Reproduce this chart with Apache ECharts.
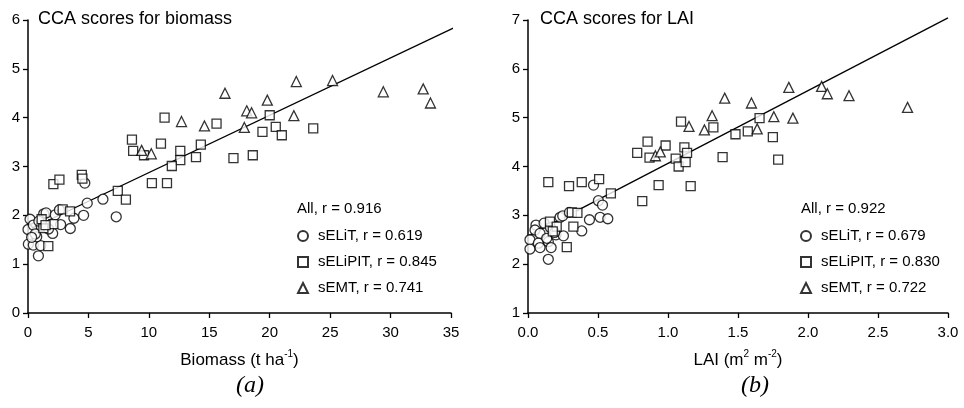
<!DOCTYPE html>
<html>
<head>
<meta charset="utf-8">
<script src="https://cdn.jsdelivr.net/npm/echarts@6/dist/echarts.min.js"></script>
<style>
html,body{margin:0;padding:0;background:#fff;}
#c{width:964px;height:408px;}
</style>
</head>
<body>
<div id="c"></div>
<script>
// ---- Panel (a): CCA scores vs biomass ----
const circlesA = [[0.0,1.71],[0.17,1.92],[0.44,1.80],[0.03,1.41],[0.44,1.39],[1.05,1.38],[0.86,1.17],[0.72,1.56],[1.1,1.77],[0.6,1.62],[1.3,2.03],[1.5,2.05],[2.04,1.63],[2.25,2.01],[2.6,2.11],[2.7,1.81],[3.5,1.73],[3.8,1.94],[4.6,2.0],[4.7,2.66],[4.9,2.25],[6.2,2.33],[7.3,1.97],[0.3,1.55],[1.7,1.72],[0.9,1.88]];
const squaresA = [[2.1,2.64],[2.6,2.73],[4.45,2.83],[4.5,2.75],[7.43,2.50],[8.1,2.32],[2.87,2.12],[3.48,2.08],[2.1,1.82],[1.27,1.74],[1.13,1.92],[1.68,1.37],[1.45,1.80],[8.6,3.55],[8.7,3.32],[9.6,3.23],[11.3,4.0],[11.0,3.47],[12.6,3.32],[12.6,3.13],[11.9,3.01],[10.25,2.66],[11.5,2.66],[14.3,3.45],[13.9,3.19],[15.6,3.88],[17.0,3.17],[18.6,3.23],[20.0,4.05],[20.5,3.81],[21.0,3.64],[23.6,3.78],[19.4,3.71]];
const trianglesA = [[16.3,4.50],[12.7,3.92],[14.6,3.83],[17.9,3.80],[18.1,4.14],[18.5,4.10],[9.4,3.33],[10.2,3.26],[19.8,4.36],[22.0,4.04],[22.2,4.74],[25.2,4.76],[29.4,4.53],[32.7,4.59],[33.3,4.30]];
const trendA = [[0,1.70],[35.4,5.86]];
const legendA = ['All, r = 0.916','sELiT, r = 0.619','sELiPIT, r = 0.845','sEMT, r = 0.741'];

// ---- Panel (b): CCA scores vs LAI ----
const circlesB = [[0.014,2.50],[0.014,2.31],[0.057,2.80],[0.05,2.70],[0.086,2.63],[0.074,2.43],[0.086,2.34],[0.145,2.10],[0.145,2.46],[0.165,2.34],[0.115,2.84],[0.134,2.53],[0.2,2.60],[0.253,2.58],[0.229,2.96],[0.248,2.99],[0.296,3.06],[0.384,2.68],[0.439,2.91],[0.515,2.96],[0.57,2.93],[0.503,3.30],[0.532,3.21],[0.468,3.62],[0.16,2.75],[0.19,2.65]];
const squaresB = [[0.145,3.68],[0.293,3.60],[0.384,3.68],[0.508,3.74],[0.592,3.45],[0.78,4.28],[0.854,4.51],[0.868,4.18],[0.983,4.43],[1.093,4.92],[1.055,4.16],[1.076,4.00],[1.117,4.39],[1.136,4.28],[1.126,4.09],[0.933,3.62],[1.162,3.60],[1.324,4.80],[1.39,4.19],[1.482,4.66],[0.816,3.29],[1.57,4.72],[1.654,4.99],[1.749,4.60],[1.787,4.14],[0.157,2.87],[0.205,2.77],[0.177,2.67],[0.313,3.06],[0.353,3.05],[0.324,2.77],[0.277,2.35]];
const trianglesB = [[0.91,4.22],[0.945,4.30],[1.15,4.82],[1.26,4.75],[1.315,5.04],[1.405,5.40],[1.596,5.30],[1.637,4.77],[1.756,5.02],[1.863,5.62],[1.892,4.99],[2.097,5.64],[2.138,5.49],[2.293,5.45],[2.711,5.21]];
const trendB = [[0,2.575],[3.0,7.045]];
const legendB = ['All, r = 0.922','sELiT, r = 0.679','sELiPIT, r = 0.830','sEMT, r = 0.722'];

const titles = ['CCA scores for biomass','CCA scores for LAI'];
const panelLabels = ['(a)','(b)'];

const FONT = 'Liberation Sans, Arial, sans-serif';
const chart = echarts.init(document.getElementById('c'), null, {renderer:'canvas'});

function axisCommon(){
  return {
    axisLine:{show:true,lineStyle:{color:'#000',width:1.5}},
    axisTick:{show:true,length:5,lineStyle:{color:'#000',width:1.3}},
    splitLine:{show:false},
    axisLabel:{color:'#000',fontSize:15,fontFamily:FONT}
  };
}
const mk = {color:'#fff',borderColor:'#000',borderWidth:1.3};
function scat(name, data, sym, size, idx){
  return {type:'scatter',name:name,data:data,symbol:sym,symbolSize:size,xAxisIndex:idx,yAxisIndex:idx,
    itemStyle:mk,emphasis:{disabled:true},z:3};
}
function line(data, idx){
  return {type:'line',data:data,xAxisIndex:idx,yAxisIndex:idx,symbol:'none',clip:false,
    lineStyle:{color:'#000',width:1.3},z:2,silent:true};
}
const nameRich = {
  n:{fontSize:17,fontFamily:FONT,color:'#000',lineHeight:22},
  s:{fontSize:10,fontFamily:FONT,color:'#000',verticalAlign:'top'}
};
function legendOpt(names, left){
  return {data:names.slice(1),orient:'vertical',left:left,top:228,padding:0,itemWidth:10,itemHeight:10,itemGap:10,
    symbolKeepAspect:true,
    textStyle:{fontSize:15,color:'#000',fontFamily:FONT,lineHeight:16,padding:[0,0,0,5]},selectedMode:false};
}

const option = {
  animation:false,
  backgroundColor:'#fff',
  title:[
    {text:titles[0],left:38,top:10,padding:0,textStyle:{fontSize:18,fontWeight:'normal',color:'#000',fontFamily:FONT}},
    {text:titles[1],left:540,top:10,padding:0,textStyle:{fontSize:18,fontWeight:'normal',color:'#000',fontFamily:FONT}},
    {text:legendA[0],left:297,top:201,padding:0,textStyle:{fontSize:15,fontWeight:'normal',color:'#000',fontFamily:FONT}},
    {text:legendB[0],left:801,top:201,padding:0,textStyle:{fontSize:15,fontWeight:'normal',color:'#000',fontFamily:FONT}},
    {text:panelLabels[0],left:250,textAlign:'center',top:374,padding:0,textStyle:{fontSize:24,fontStyle:'italic',fontWeight:'normal',color:'#000',fontFamily:'Liberation Serif, Times New Roman, serif'}},
    {text:panelLabels[1],left:755,textAlign:'center',top:374,padding:0,textStyle:{fontSize:24,fontStyle:'italic',fontWeight:'normal',color:'#000',fontFamily:'Liberation Serif, Times New Roman, serif'}}
  ],
  legend:[ legendOpt(legendA, 297), legendOpt(legendB, 800) ],
  grid:[
    {left:28,top:20,width:423,height:293},
    {left:528,top:20,width:420,height:293}
  ],
  xAxis:[
    Object.assign(axisCommon(),{type:'value',gridIndex:0,min:0,max:35,interval:5,
      name:'{n|Biomass (t ha}{s|-1}{n|)}',nameLocation:'middle',nameGap:36,nameTextStyle:{rich:nameRich}}),
    Object.assign(axisCommon(),{type:'value',gridIndex:1,min:0,max:3,interval:0.5,
      name:'{n|LAI (m}{s|2}{n| m}{s|-2}{n|)}',nameLocation:'middle',nameGap:36,nameTextStyle:{rich:nameRich}})
  ],
  yAxis:[
    Object.assign(axisCommon(),{type:'value',gridIndex:0,min:0,max:6,interval:1}),
    Object.assign(axisCommon(),{type:'value',gridIndex:1,min:1,max:7,interval:1})
  ],
  series:[
    line(trendA,0),
    scat(legendA[1],circlesA,'circle',10,0),
    scat(legendA[2],squaresA,'rect',9,0),
    scat(legendA[3],trianglesA,'triangle',10,0),
    line(trendB,1),
    scat(legendB[1],circlesB,'circle',10,1),
    scat(legendB[2],squaresB,'rect',9,1),
    scat(legendB[3],trianglesB,'triangle',10,1)
  ]
};
option.xAxis[1].axisLabel.formatter = v => v.toFixed(1);
option.xAxis[0].axisLabel.margin = 12;
option.xAxis[1].axisLabel.margin = 12;
option.yAxis[0].axisLabel.margin = 8;
option.yAxis[1].axisLabel.margin = 8;
chart.setOption(option);
</script>
</body>
</html>
